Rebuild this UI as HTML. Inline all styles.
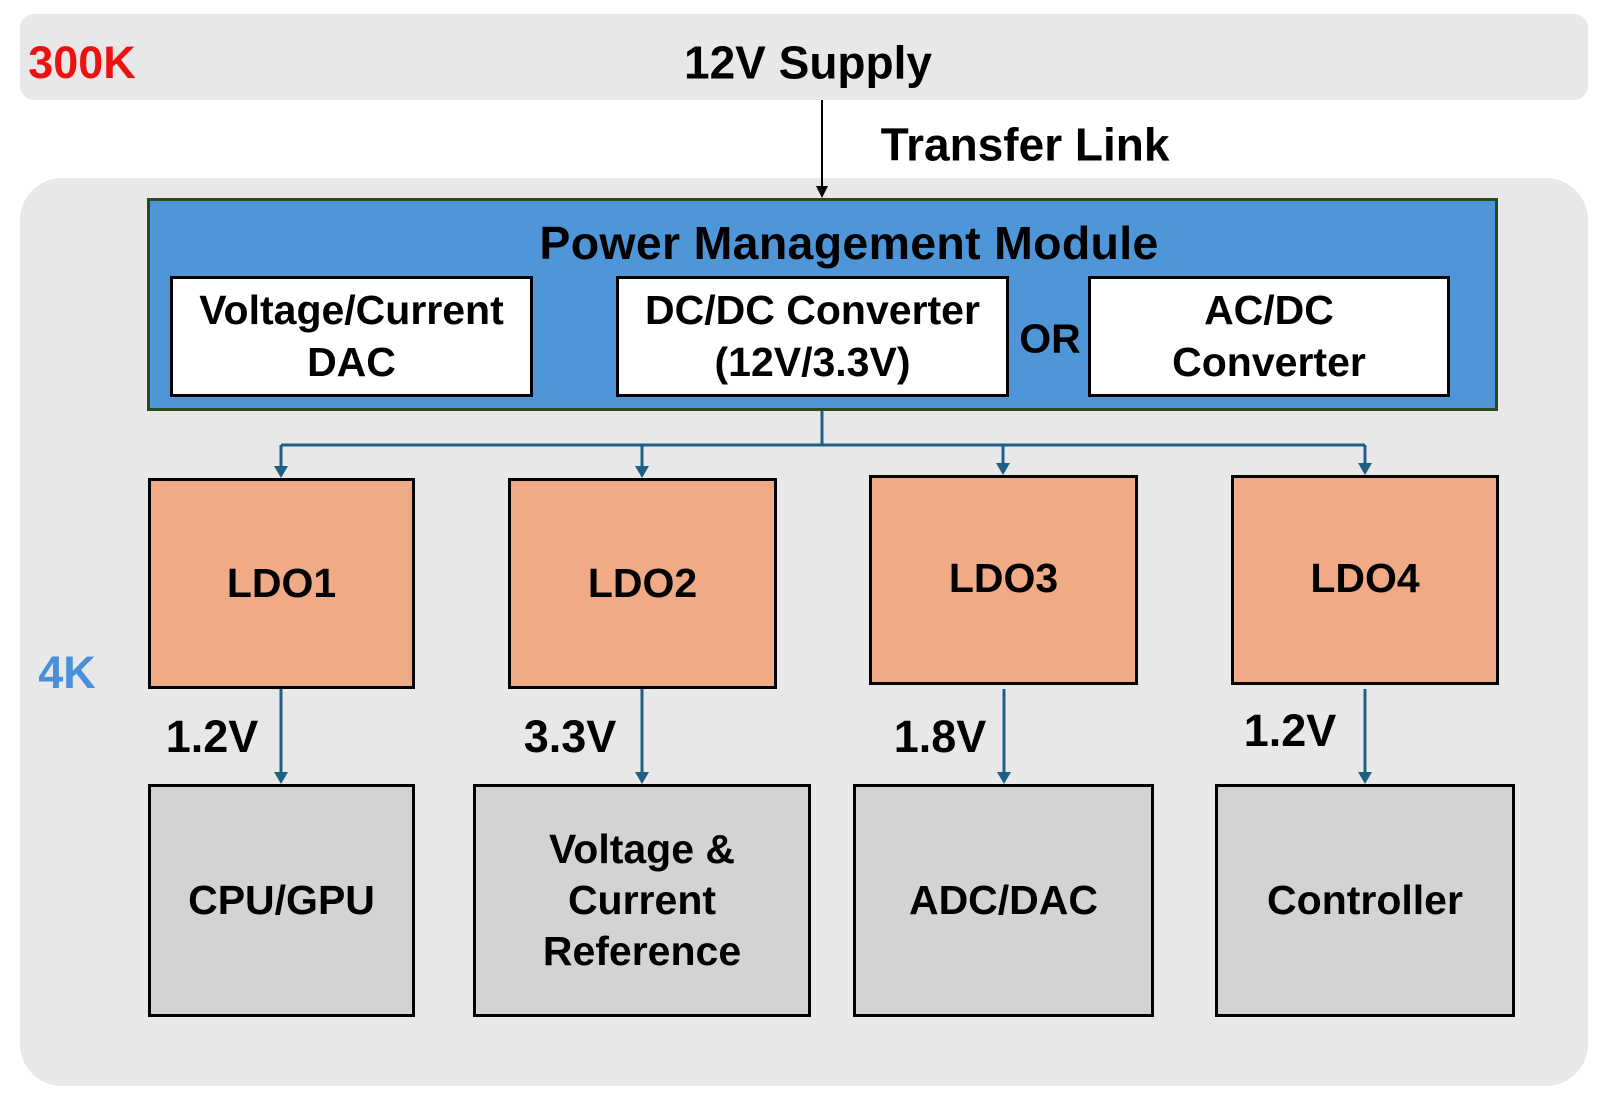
<!DOCTYPE html>
<html><head><style>
body{margin:0;width:1600px;height:1097px;background:#fff;position:relative;overflow:hidden;font-family:"Liberation Sans",Arial,sans-serif;font-weight:bold;color:#000}
.a{position:absolute;box-sizing:border-box}
.t{position:absolute;white-space:nowrap;transform:translate(-50%,-50%);text-align:center;line-height:1.25}
.box{position:absolute;box-sizing:border-box;border:3px solid #000;display:flex;align-items:center;justify-content:center;text-align:center;line-height:1.25}
</style></head><body>
<div class="a" style="left:20px;top:14px;width:1568px;height:86px;background:#e8e8e8;border-radius:14px"></div>
<div class="a" style="left:20px;top:178px;width:1568px;height:908px;background:#e8e8e8;border-radius:42px"></div>
<div class="t" style="left:82px;top:63px;font-size:45px;color:#ee1111">300K</div>
<div class="t" style="left:808px;top:63px;font-size:46px">12V Supply</div>
<div class="t" style="left:1025px;top:145px;font-size:46px">Transfer Link</div>
<div class="t" style="left:67px;top:673px;font-size:45px;color:#4a90d9">4K</div>
<div class="a" style="left:147px;top:198px;width:1351px;height:213px;background:#4f96d8;border:3px solid #2b4a1c"></div>
<div class="t" style="left:849px;top:243px;font-size:46.5px;letter-spacing:0.3px">Power Management Module</div>
<div class="box" style="left:170px;top:276px;width:363px;height:121px;background:#fff;font-size:41px">Voltage/Current<br>DAC</div>
<div class="box" style="left:616px;top:276px;width:393px;height:121px;background:#fff;font-size:41px">DC/DC Converter<br>(12V/3.3V)</div>
<div class="t" style="left:1050px;top:339px;font-size:41px">OR</div>
<div class="box" style="left:1088px;top:276px;width:362px;height:121px;background:#fff;font-size:41px">AC/DC<br>Converter</div>

<div class="box" style="left:148px;top:478px;width:267px;height:211px;background:#f0aa86;font-size:41px">LDO1</div>
<div class="box" style="left:508px;top:478px;width:269px;height:211px;background:#f0aa86;font-size:41px">LDO2</div>
<div class="box" style="left:869px;top:475px;width:269px;height:210px;background:#f0aa86;font-size:41px;padding-bottom:2px">LDO3</div>
<div class="box" style="left:1231px;top:475px;width:268px;height:210px;background:#f0aa86;font-size:41px;padding-bottom:2px">LDO4</div>

<div class="box" style="left:148px;top:784px;width:267px;height:233px;background:#d3d3d3;font-size:41px">CPU/GPU</div>
<div class="box" style="left:473px;top:784px;width:338px;height:233px;background:#d3d3d3;font-size:41px">Voltage &amp;<br>Current<br>Reference</div>
<div class="box" style="left:853px;top:784px;width:301px;height:233px;background:#d3d3d3;font-size:41px">ADC/DAC</div>
<div class="box" style="left:1215px;top:784px;width:300px;height:233px;background:#d3d3d3;font-size:41px">Controller</div>

<div class="t" style="left:212px;top:737px;font-size:45px">1.2V</div>
<div class="t" style="left:570px;top:737px;font-size:45px">3.3V</div>
<div class="t" style="left:940px;top:737px;font-size:45px">1.8V</div>
<div class="t" style="left:1290px;top:731px;font-size:45px">1.2V</div>

<svg class="a" style="left:0;top:0" width="1600" height="1097">
<g stroke="#000" stroke-width="2" fill="#000">
<line x1="822" y1="100" x2="822" y2="188"/><path d="M816 186 L828 186 L822 198Z" stroke="none"/>
</g>
<g stroke="#1f5f86" stroke-width="3" fill="none">
<line x1="822" y1="411" x2="822" y2="445"/>
<line x1="281" y1="445" x2="1365" y2="445"/>
<line x1="281" y1="445" x2="281" y2="468"/>
<line x1="642" y1="445" x2="642" y2="468"/>
<line x1="1003" y1="445" x2="1003" y2="466"/>
<line x1="1365" y1="445" x2="1365" y2="466"/>
<line x1="281" y1="689" x2="281" y2="774"/>
<line x1="642" y1="689" x2="642" y2="774"/>
<line x1="1004" y1="689" x2="1004" y2="774"/>
<line x1="1365" y1="689" x2="1365" y2="774"/>
</g>
<g fill="#1f5f86">
<path d="M274 466 L288 466 L281 478Z"/><path d="M635 466 L649 466 L642 478Z"/>
<path d="M996 463 L1010 463 L1003 475Z"/><path d="M1358 463 L1372 463 L1365 475Z"/>
<path d="M274 772 L288 772 L281 784Z"/><path d="M635 772 L649 772 L642 784Z"/>
<path d="M997 772 L1011 772 L1004 784Z"/><path d="M1358 772 L1372 772 L1365 784Z"/>
</g>
</svg>
</body></html>
